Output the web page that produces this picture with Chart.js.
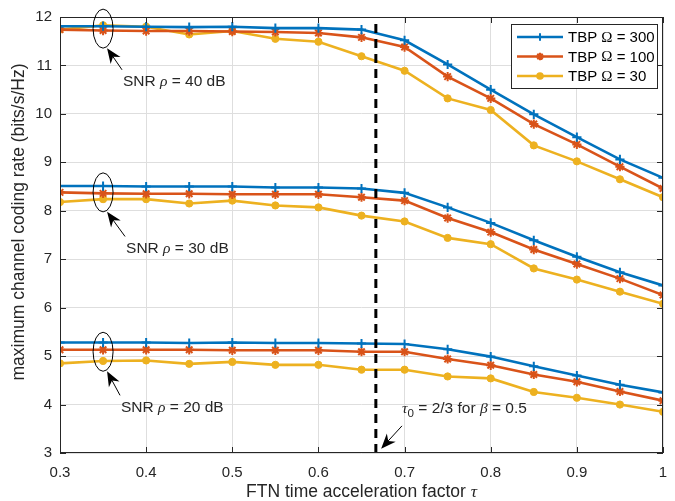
<!DOCTYPE html>
<html>
<head>
<meta charset="utf-8">
<script src="https://cdn.jsdelivr.net/npm/chart.js@4.4.1/dist/chart.umd.min.js"></script>
<style>
  body { margin: 0; background: #fff; }
  canvas { display: block; }
</style>
</head>
<body>
<canvas id="myChart" width="675" height="501"></canvas>
<script>
// FTN acceleration factor (x) and tick labels
const tau = [0.3, 0.35, 0.4, 0.45, 0.5, 0.55, 0.6, 0.65, 0.7, 0.75, 0.8, 0.85, 0.9, 0.95, 1.0];
const xTicks = [0.3, 0.4, 0.5, 0.6, 0.7, 0.8, 0.9, 1];
const yTicks = [3, 4, 5, 6, 7, 8, 9, 10, 11, 12];
const tau0 = 2 / 3;

// values (bits/s/Hz)
const snr40_tbp300 = [11.81, 11.81, 11.80, 11.79, 11.80, 11.77, 11.77, 11.74, 11.52, 11.02, 10.50, 9.99, 9.52, 9.06, 8.68];
const snr40_tbp100 = [11.74, 11.72, 11.71, 11.71, 11.70, 11.69, 11.67, 11.58, 11.38, 10.77, 10.32, 9.79, 9.37, 8.91, 8.46];
const snr40_tbp30  = [11.74, 11.83, 11.80, 11.64, 11.71, 11.55, 11.49, 11.19, 10.89, 10.32, 10.08, 9.35, 9.02, 8.65, 8.28];
const snr30_tbp300 = [8.51, 8.51, 8.50, 8.50, 8.50, 8.48, 8.48, 8.46, 8.37, 8.07, 7.75, 7.39, 7.05, 6.73, 6.46];
const snr30_tbp100 = [8.38, 8.36, 8.35, 8.35, 8.34, 8.34, 8.34, 8.28, 8.21, 7.85, 7.56, 7.20, 6.90, 6.60, 6.26];
const snr30_tbp30  = [8.18, 8.24, 8.24, 8.15, 8.21, 8.11, 8.07, 7.90, 7.78, 7.44, 7.31, 6.81, 6.58, 6.33, 6.08];
const snr20_tbp300 = [5.28, 5.28, 5.28, 5.27, 5.28, 5.27, 5.27, 5.26, 5.25, 5.14, 4.99, 4.79, 4.60, 4.41, 4.25];
const snr20_tbp100 = [5.13, 5.13, 5.13, 5.13, 5.12, 5.12, 5.12, 5.09, 5.09, 4.94, 4.81, 4.62, 4.47, 4.27, 4.08];
const snr20_tbp30  = [4.85, 4.90, 4.91, 4.84, 4.88, 4.82, 4.82, 4.72, 4.72, 4.58, 4.54, 4.26, 4.14, 4.00, 3.85];

const legendLabels = ['300', '100', '30'];
const snrLabels = ['40', '30', '20'];

const FONT = "'Liberation Sans', Arial, Helvetica, sans-serif";
const SERIF = "'Liberation Serif', 'Times New Roman', serif";
const AX = '#262626';
const BLUE = '#0072BD', ORANGE = '#D95319', YELLOW = '#EDB120';

function series(label, ys, color, marker, order) {
  return {
    label: label,
    data: tau.map((t, i) => ({ x: t, y: ys[i] })),
    borderColor: color,
    backgroundColor: color,
    borderWidth: 2.6,
    pointStyle: marker,
    pointRadius: marker === 'circle' ? 3.6 : 4.6,
    pointBorderWidth: marker === 'circle' ? 1 : 2,
    pointHoverRadius: 0,
    order: order
  };
}

// blue drawn on top, yellow at the bottom (as in the figure)
const datasets = [
  series('TBP 300', snr40_tbp300, BLUE, 'cross', 1),
  series('TBP 100', snr40_tbp100, ORANGE, 'star', 2),
  series('TBP 30', snr40_tbp30, YELLOW, 'circle', 3),
  series('', snr30_tbp300, BLUE, 'cross', 1),
  series('', snr30_tbp100, ORANGE, 'star', 2),
  series('', snr30_tbp30, YELLOW, 'circle', 3),
  series('', snr20_tbp300, BLUE, 'cross', 1),
  series('', snr20_tbp100, ORANGE, 'star', 2),
  series('', snr20_tbp30, YELLOW, 'circle', 3),
  {
    label: 'tau0',
    data: [{ x: tau0, y: yTicks[0] }, { x: tau0, y: yTicks[yTicks.length - 1] }],
    borderColor: '#000',
    borderWidth: 3,
    borderDash: [9, 6],
    pointRadius: 0,
    order: 0
  }
];

// annotation anchors in data units (ellipse centre, arrow tail, label left/centre)
const groupNotes = [
  { cy: 11.76, tailX: 0.372, tailY: 10.91, textX: 0.373, textY: 10.67 },
  { cy: 8.38, tailX: 0.3755, tailY: 7.47, textX: 0.3767, textY: 7.21 },
  { cy: 5.09, tailX: 0.3697, tailY: 4.19, textX: 0.3708, textY: 3.94 }
];

// draws a run of text pieces, some italic / serif / subscript
function drawParts(ctx, parts, x, y, size) {
  ctx.textBaseline = 'middle';
  ctx.textAlign = 'left';
  parts.forEach(p => {
    const s = p.sub ? size * 0.75 : size;
    ctx.font = (p.italic ? 'italic ' : '') + s + 'px ' + (p.serif ? SERIF : FONT);
    ctx.fillText(p.t, x, p.sub ? y + size * 0.3 : y);
    x += ctx.measureText(p.t).width;
  });
  return x;
}

function partsWidth(ctx, parts, size) {
  let w = 0;
  parts.forEach(p => {
    const s = p.sub ? size * 0.75 : size;
    ctx.font = (p.italic ? 'italic ' : '') + s + 'px ' + (p.serif ? SERIF : FONT);
    w += ctx.measureText(p.t).width;
  });
  return w;
}

function arrow(ctx, x1, y1, x2, y2) {
  const ang = Math.atan2(y2 - y1, x2 - x1);
  const len = 15, half = 6;
  ctx.beginPath();
  ctx.moveTo(x1, y1);
  ctx.lineTo(x2 - Math.cos(ang) * len * 0.6, y2 - Math.sin(ang) * len * 0.6);
  ctx.stroke();
  const bx = x2 - Math.cos(ang) * len, by = y2 - Math.sin(ang) * len;
  const nx = x2 - Math.cos(ang) * len * 0.7, ny = y2 - Math.sin(ang) * len * 0.7;
  ctx.beginPath();
  ctx.moveTo(x2, y2);
  ctx.lineTo(bx + Math.sin(ang) * half, by - Math.cos(ang) * half);
  ctx.lineTo(nx, ny);
  ctx.lineTo(bx - Math.sin(ang) * half, by + Math.cos(ang) * half);
  ctx.closePath();
  ctx.fill();
}

const extras = {
  id: 'extras',
  afterDatasetsDraw(chart) {
    const ctx = chart.ctx;
    const a = chart.chartArea;
    const xs = chart.scales.x, ys = chart.scales.y;
    ctx.save();

    // frame and inward ticks
    ctx.strokeStyle = AX;
    ctx.lineWidth = 1;
    ctx.strokeRect(a.left + 0.5, a.top + 0.5, a.right - a.left - 1, a.bottom - a.top - 1);
    ctx.beginPath();
    xTicks.forEach(v => {
      const px = Math.round(xs.getPixelForValue(v)) + 0.5;
      ctx.moveTo(px, a.bottom); ctx.lineTo(px, a.bottom - 6);
      ctx.moveTo(px, a.top); ctx.lineTo(px, a.top + 6);
    });
    yTicks.forEach(v => {
      const py = Math.round(ys.getPixelForValue(v)) + 0.5;
      ctx.moveTo(a.left, py); ctx.lineTo(a.left + 6, py);
      ctx.moveTo(a.right, py); ctx.lineTo(a.right - 6, py);
    });
    ctx.stroke();

    // ellipses, arrows and SNR labels
    ctx.strokeStyle = '#000';
    ctx.fillStyle = '#000';
    groupNotes.forEach((g, i) => {
      const cx = xs.getPixelForValue(0.35), cy = ys.getPixelForValue(g.cy);
      ctx.lineWidth = 1;
      ctx.beginPath();
      ctx.ellipse(cx, cy, 10, 19.5, 0, 0, Math.PI * 2);
      ctx.stroke();
      arrow(ctx, xs.getPixelForValue(g.tailX), ys.getPixelForValue(g.tailY), cx + 4, cy + 19.5);
      ctx.fillStyle = '#262626';
      drawParts(ctx, [
        { t: 'SNR ' }, { t: 'ρ', italic: true, serif: true }, { t: ' = ' + snrLabels[i] + ' dB' }
      ], xs.getPixelForValue(g.textX), ys.getPixelForValue(g.textY), 15.5);
      ctx.fillStyle = '#000';
    });

    // tau0 note
    arrow(ctx, xs.getPixelForValue(0.697), ys.getPixelForValue(3.56), xs.getPixelForValue(0.6728), ys.getPixelForValue(3.09));
    ctx.fillStyle = '#262626';
    drawParts(ctx, [
      { t: 'τ', italic: true, serif: true }, { t: '0', sub: true }, { t: ' = 2/3 for ' },
      { t: 'β', italic: true, serif: true }, { t: ' = 0.5' }
    ], xs.getPixelForValue(0.697), ys.getPixelForValue(3.91), 15.5);

    // axis titles
    const xt = [{ t: 'FTN time acceleration factor ' }, { t: 'τ', italic: true, serif: true }];
    const w = partsWidth(ctx, xt, 17.5);
    drawParts(ctx, xt, (a.left + a.right) / 2 - w / 2, 492, 17.5);

    ctx.save();
    ctx.translate(19, 222);
    ctx.rotate(-Math.PI / 2);
    ctx.font = '17.5px ' + FONT;
    ctx.textAlign = 'center';
    ctx.textBaseline = 'middle';
    ctx.fillText('maximum channel coding rate (bits/s/Hz)', 0, 0);
    ctx.restore();

    // legend box
    const bx = a.right - 152, by = a.top + 7, bw = 146, bh = 64;
    ctx.fillStyle = '#fff';
    ctx.fillRect(bx, by, bw, bh);
    ctx.strokeStyle = AX;
    ctx.lineWidth = 1;
    ctx.strokeRect(bx + 0.5, by + 0.5, bw, bh);
    [0, 1, 2].forEach(i => {
      const ds = chart.data.datasets[i];
      const ry = by + 13 + i * 19.5;
      ctx.strokeStyle = ds.borderColor;
      ctx.lineWidth = 2.6;
      ctx.beginPath();
      ctx.moveTo(bx + 6, ry); ctx.lineTo(bx + 52, ry);
      ctx.stroke();
      const mx = bx + 29;
      ctx.lineWidth = 2;
      ctx.fillStyle = ds.borderColor;
      Chart.helpers.drawPoint(ctx, { pointStyle: ds.pointStyle, radius: ds.pointRadius - 0.8, borderWidth: 2, rotation: 0 }, mx, ry);
      if (ds.pointStyle === 'circle') ctx.fill();
      ctx.fillStyle = '#000';
      drawParts(ctx, [{ t: 'TBP ' }, { t: 'Ω', serif: true }, { t: ' = ' + legendLabels[i] }], bx + 57, ry + 1, 15);
    });
    ctx.restore();
  }
};

const ctx = document.getElementById('myChart').getContext('2d');
const myChart = new Chart(ctx, {
  type: 'line',
  data: { datasets: datasets },
  options: {
    responsive: false,
    animation: false,
    layout: { padding: { top: 14, right: 12, left: 0, bottom: 0 } },
    plugins: { legend: { display: false }, tooltip: { enabled: false } },
    elements: { line: { tension: 0 } },
    scales: {
      x: {
        type: 'linear',
        min: 0.3,
        max: 1,
        afterBuildTicks: s => { s.ticks = xTicks.map(v => ({ value: v })); },
        afterFit: s => { s.height = 48; s.paddingLeft = 0; s.paddingRight = 0; },
        ticks: {
          font: { family: FONT, size: 15 },
          color: AX,
          padding: 11,
          maxRotation: 0,
          callback: v => (v === 1 ? '1' : v.toFixed(1))
        },
        grid: { color: '#dedede', drawTicks: false },
        border: { display: false }
      },
      y: {
        min: 3,
        max: 12,
        afterBuildTicks: s => { s.ticks = yTicks.map(v => ({ value: v })); },
        afterFit: s => { s.width = 60; },
        ticks: {
          font: { family: FONT, size: 15 },
          color: AX,
          padding: 8,
          callback: v => String(v)
        },
        grid: { color: '#dedede', drawTicks: false },
        border: { display: false }
      }
    }
  },
  plugins: [extras]
});
</script>
</body>
</html>
